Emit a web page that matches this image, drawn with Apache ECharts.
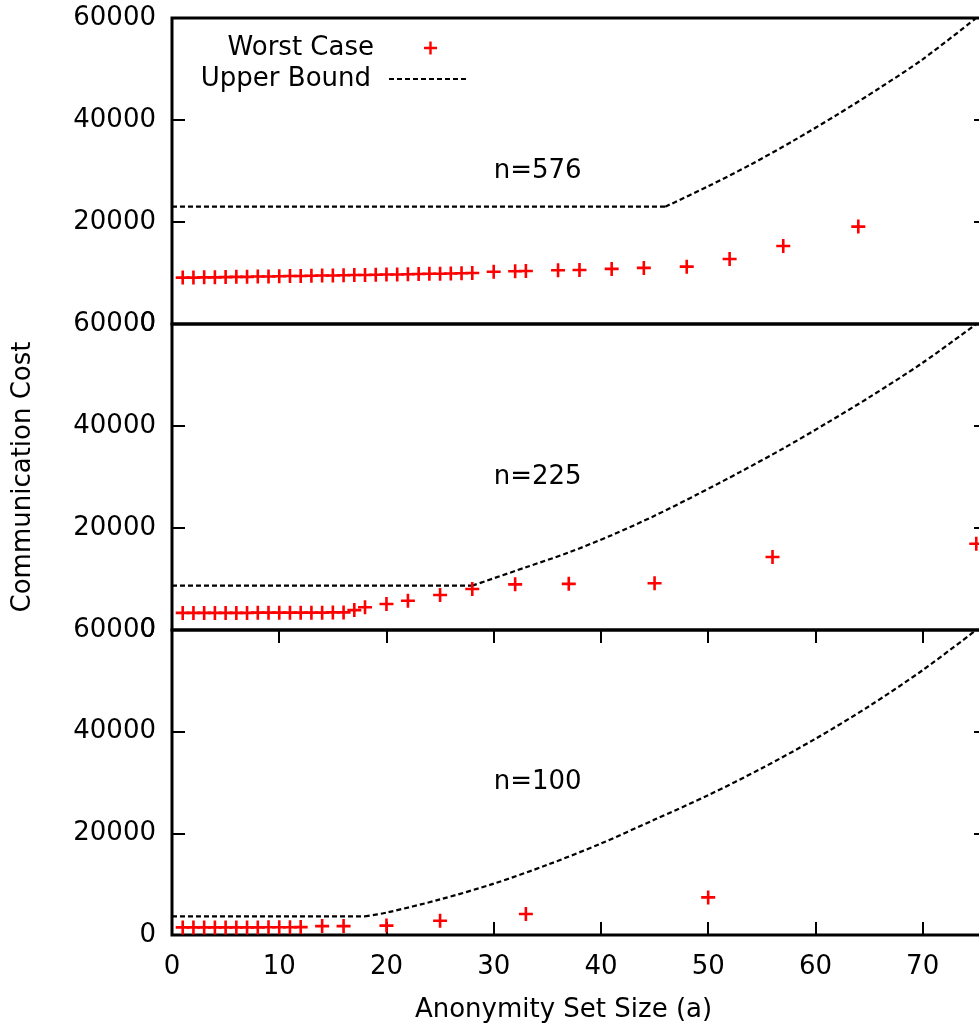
<!DOCTYPE html>
<html><head><meta charset="utf-8">
<script src="https://cdn.jsdelivr.net/npm/echarts@6/dist/echarts.min.js"></script>
<style>html,body{margin:0;padding:0;background:#fff}#c{width:979px;height:1030px}</style>
</head><body><div id="c"></div><script>
// ---- data ----
const panelNames = ['n=576', 'n=225', 'n=100'];
const panelLabelPos = [[30, 30000], [30, 30000], [30, 30000]];

const worst576 = [[1,9100],[2,9100],[3,9150],[4,9150],[5,9200],[6,9250],[7,9250],[8,9300],[9,9300],[10,9350],
  [11,9400],[12,9400],[13,9450],[14,9500],[15,9500],[16,9550],[17,9600],[18,9600],[19,9650],[20,9700],
  [21,9700],[22,9750],[23,9800],[24,9850],[25,9850],[26,9900],[27,9950],[28,10000],[30,10250],[32,10350],
  [33,10400],[36,10550],[38,10600],[41,10800],[44,11000],[48,11250],[52,12750],[57,15300],[64,19100]];
const bound576 = [[0,23000],[46,23000],[50,27000],[54,31300],[58,36000],[62,41000],[66,46300],[70,51900],[75,60000]];

const worst225 = [[1,3350],[2,3350],[3,3350],[4,3350],[5,3350],[6,3350],[7,3350],[8,3400],[9,3400],[10,3400],
  [11,3400],[12,3400],[13,3400],[14,3400],[15,3450],[16,3450],[17,3900],[18,4450],[20,5100],[22,5750],
  [25,6850],[28,8050],[32,8950],[37,9050],[45,9180],[56,14300],[75,16900]];
const bound225 = [[0,8700],[28,8700],[33,12300],[37,15200],[41,18600],[45,22400],[49,26600],[53,31000],[57,35600],[61,40500],[65,45600],[70,52400],[75,60000]];

const worst100 = [[1,1500],[2,1500],[3,1500],[4,1500],[5,1500],[6,1500],[7,1500],[8,1500],[9,1520],[10,1520],
  [11,1520],[12,1550],[14,1750],[16,1750],[20,1850],[25,2800],[33,4130],[50,7400]];
const bound100 = [[0,3650],[18,3650],[20,4400],[25,7000],[30,10100],[35,13800],[40,18000],[45,22700],[50,27500],[55,32800],[60,38600],[65,45000],[70,52100],[75,60000]];

const worstSets = [worst576, worst225, worst100];
const boundSets = [bound576, bound225, bound100];

// ---- chart ----
const FONT = 'DejaVu Sans';
const FS = 26;
const PLUS = 'path://M5.7,0H8.3V5.7H14V8.3H8.3V14H5.7V8.3H0V5.7H5.7Z';
const gridDefs = [{top:18,height:306},{top:324,height:306},{top:630,height:305}];

const chart = echarts.init(document.getElementById('c'), null, {renderer:'canvas'});
const tickStyle = () => ({show:true, inside:true, length:13, lineStyle:{color:'#000', width:2}});
const noLine = () => ({show:false, onZero:false});

const grid = gridDefs.map(g => ({left:172, width:815, top:g.top, height:g.height, show:true,
  outerBoundsMode:'none', containLabel:false,
  borderColor:'#000', borderWidth:3, backgroundColor:'transparent'}));

const xAxis = [0,1,2].map(i => ({
  gridIndex:i, type:'value', position:'bottom', min:0, max:76, interval:10,
  axisLine:noLine(), splitLine:{show:false},
  axisTick:{show:false},
  axisLabel:{show:i===2, fontSize:FS, color:'#000', fontFamily:FONT, margin:19,
    formatter: v => (v > 75 ? '' : String(v))},
  name: i===2 ? 'Anonymity Set Size (a)' : '',
  nameLocation:'middle', nameGap:62,
  nameTextStyle:{fontSize:FS, color:'#000', fontFamily:FONT, padding:[0,32,0,0]}
}));
// tick-only axes for the bottom panel (bottom edge and mirrored top edge)
xAxis.push({gridIndex:2, type:'value', position:'top', min:0, max:76, interval:10,
  axisLine:noLine(), splitLine:{show:false}, axisTick:tickStyle(), axisLabel:{show:false}});
xAxis.push({gridIndex:2, type:'value', position:'bottom', min:0, max:76, interval:10,
  axisLine:noLine(), splitLine:{show:false}, axisTick:tickStyle(), axisLabel:{show:false}});

const yAxis = [];
[0,1,2].forEach(i => yAxis.push({
  gridIndex:i, type:'value', position:'left', min:0, max:60000, interval:20000,
  axisLine:noLine(), splitLine:{show:false}, axisTick:tickStyle(),
  axisLabel:{fontSize:FS, color:'#000', fontFamily:FONT, margin:16, formatter: v => String(v)},
  name: i===1 ? 'Communication Cost' : '',
  nameLocation:'middle', nameGap:136,
  nameTextStyle:{fontSize:FS, color:'#000', fontFamily:FONT}
}));
[0,1,2].forEach(i => yAxis.push({
  gridIndex:i, type:'value', position:'right', min:0, max:60000, interval:20000,
  axisLine:noLine(), splitLine:{show:false}, axisTick:tickStyle(), axisLabel:{show:false}
}));

const dash = {color:'#000', width:2.2, type:[5,3]};
const series = [];
[0,1,2].forEach(i => {
  const b = boundSets[i];
  // flat part (straight) and rising part (smooth) of the same bound
  series.push({name:'Upper Bound', type:'line', xAxisIndex:i, yAxisIndex:i, data:b.slice(0,2),
    symbol:'none', clip:true, z:2, lineStyle:dash, itemStyle:{color:'#000'}});
  series.push({name:'Upper Bound', type:'line', xAxisIndex:i, yAxisIndex:i, data:b.slice(1),
    symbol:'none', smooth:0.3, clip:true, z:2, lineStyle:dash, itemStyle:{color:'#000'}});
  series.push({name:'Worst Case', type:'scatter', xAxisIndex:i, yAxisIndex:i, data:worstSets[i],
    symbol:PLUS, symbolSize:14, z:3, itemStyle:{color:'#ff0000', opacity:1}});
  series.push({name:'panel'+i, type:'scatter', xAxisIndex:i, yAxisIndex:i, data:[panelLabelPos[i]],
    symbolSize:0, silent:true, itemStyle:{opacity:1},
    label:{show:true, position:'right', distance:0, formatter:panelNames[i], fontSize:FS, color:'#000', fontFamily:FONT, opacity:1}});
});

const legendCommon = {orient:'vertical', align:'right', itemWidth:77, itemHeight:13, padding:0,
  selectedMode:false, textStyle:{fontSize:FS, color:'#000', fontFamily:FONT, padding:[0,13,0,0]}};

chart.setOption({
  animation:false,
  backgroundColor:'#fff',
  grid, xAxis, yAxis, series,
  legend:[
    Object.assign({}, legendCommon, {data:['Worst Case'], right:542, top:35}),
    Object.assign({}, legendCommon, {data:['Upper Bound'], right:512, top:66, itemStyle:{opacity:0}})
  ]
});
</script></body></html>
